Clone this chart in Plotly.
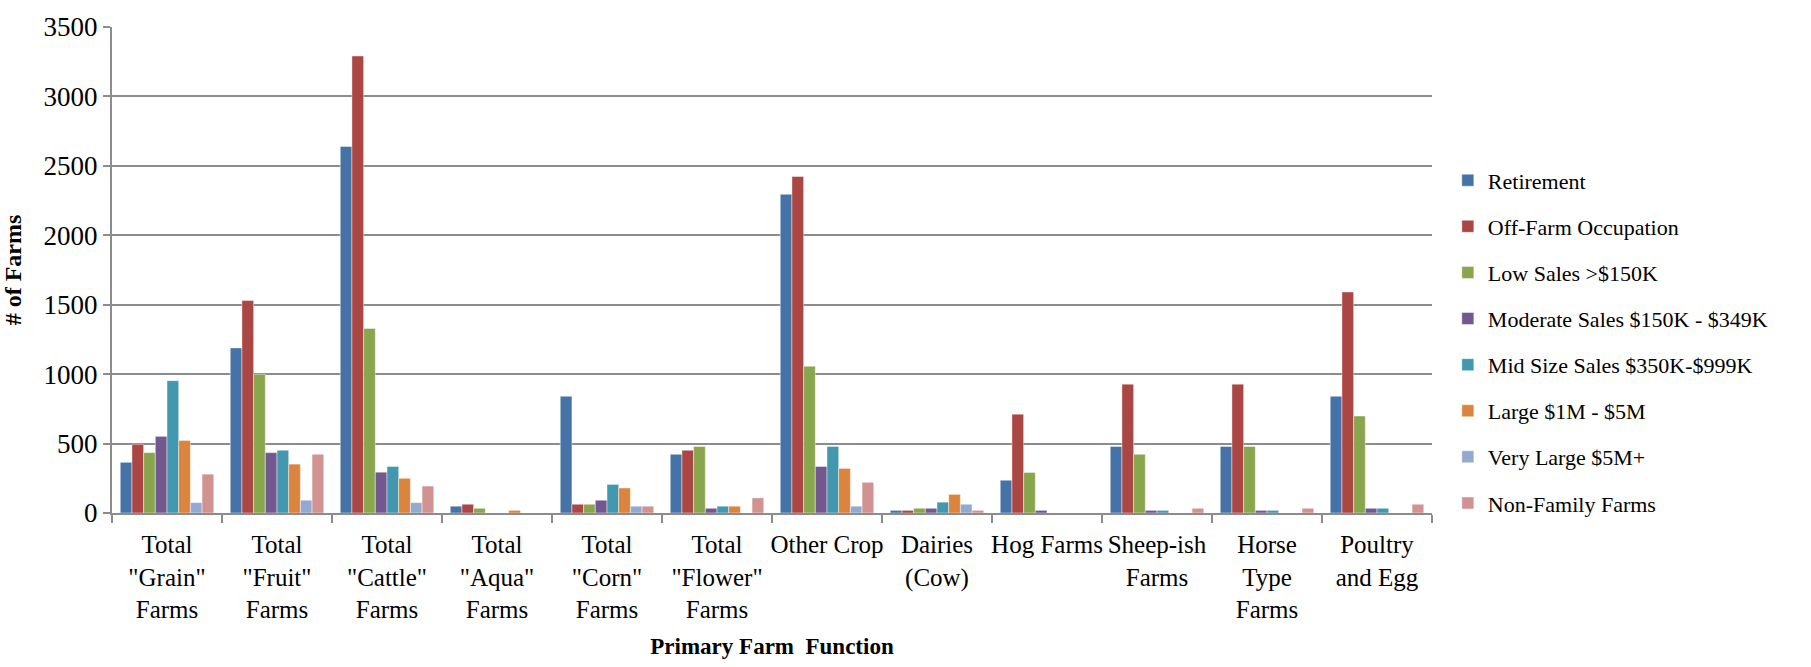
import plotly.graph_objects as go

# Primary farm function categories (x axis)
categories = [
    'Total<br>"Grain"<br>Farms', 'Total<br>"Fruit"<br>Farms', 'Total<br>"Cattle"<br>Farms',
    'Total<br>"Aqua"<br>Farms', 'Total<br>"Corn"<br>Farms', 'Total<br>"Flower"<br>Farms',
    'Other Crop', 'Dairies<br>(Cow)', 'Hog Farms', 'Sheep-ish<br>Farms',
    'Horse<br>Type<br>Farms', 'Poultry<br>and Egg',
]

# Number of farms per farm typology
retirement = [365, 1189, 2640, 49, 841, 423, 2295, 19, 236, 479, 479, 841]
off_farm = [495, 1531, 3291, 63, 63, 452, 2423, 19, 712, 928, 928, 1592]
low_sales = [435, 999, 1329, 34, 63, 479, 1057, 34, 292, 423, 479, 698]
moderate_sales = [552, 435, 294, 0, 92, 34, 335, 34, 19, 19, 19, 34]
mid_size = [953, 452, 335, 0, 206, 49, 479, 78, 0, 19, 19, 34]
large = [523, 352, 250, 19, 180, 49, 321, 134, 0, 0, 0, 0]
very_large = [75, 92, 75, 0, 49, 0, 49, 63, 0, 0, 0, 0]
non_family = [280, 423, 194, 0, 49, 109, 221, 19, 0, 34, 34, 63]

series_names = [
    "Retirement", "Off-Farm Occupation", "Low Sales >$150K",
    "Moderate Sales $150K - $349K", "Mid Size Sales $350K-$999K",
    "Large $1M - $5M", "Very Large $5M+", "Non-Family Farms",
]
series_values = [retirement, off_farm, low_sales, moderate_sales,
                 mid_size, large, very_large, non_family]
series_colors = ["#4572A7", "#AA4643", "#89A54E", "#71588F",
                 "#4198AF", "#DB843D", "#93A9CF", "#D19392"]

FONT = "Liberation Serif, Times New Roman, serif"

fig = go.Figure()
for i, (name, vals, col) in enumerate(zip(series_names, series_values, series_colors)):
    fig.add_trace(go.Bar(
        name=name, x=categories, y=vals,
        marker=dict(color=col, line=dict(color="rgba(255,255,255,0.55)", width=0.8)),
        legendgroup=f"g{i}",
    ))

grid_col = "#8c8c8c"
fig.update_layout(
    barmode="group",
    bargap=0.15,
    bargroupgap=0,
    width=1811, height=667,
    margin=dict(l=112, r=379, t=18, b=152),
    paper_bgcolor="white",
    plot_bgcolor="white",
    font=dict(family=FONT, color="black"),
    legend=dict(
        x=1.012, xanchor="left", y=0.352, yanchor="middle",
        font=dict(family=FONT, size=22, color="black"),
        tracegroupgap=14.5,
        bgcolor="rgba(0,0,0,0)",
    ),
    xaxis=dict(
        title=dict(text="<b>Primary Farm  Function</b>",
                   font=dict(family=FONT, size=23, color="black"), standoff=16),
        tickfont=dict(family=FONT, size=25, color="black"),
        ticklabelstandoff=8,
        showline=True, linecolor=grid_col, linewidth=2,
        ticks="outside", tickson="boundaries", ticklen=8,
        tickcolor=grid_col, tickwidth=2,
        tickangle=0,
    ),
    yaxis=dict(
        title=dict(text="<b># of Farms</b>",
                   font=dict(family=FONT, size=24, color="black"), standoff=15),
        range=[0, 3500], dtick=500,
        tickfont=dict(family=FONT, size=27, color="black"),
        showgrid=True, gridcolor=grid_col, gridwidth=1.6,
        showline=True, linecolor=grid_col, linewidth=2,
        ticks="outside", ticklen=7, tickcolor=grid_col, tickwidth=1.6,
        zeroline=False,
    ),
)

fig.write_html("out.html")
